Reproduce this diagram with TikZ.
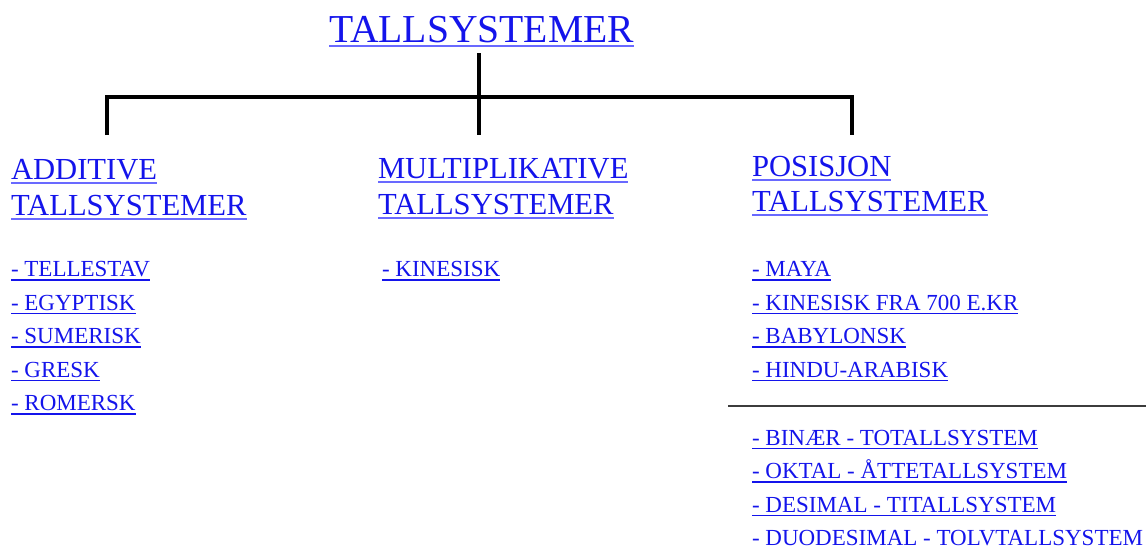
\documentclass[tikz,border=0pt]{standalone}
\usepackage{fontspec}
\setmainfont{Liberation Serif}
\definecolor{lnkblue}{RGB}{20,20,235}
\definecolor{ulblue}{RGB}{105,105,255}
\definecolor{rulegray}{RGB}{60,60,60}
\tikzset{
  lnktext/.style={anchor=base west, inner sep=0pt, outer sep=0pt, text=lnkblue},
  headul/.style={draw=ulblue, line width=2.4pt},
  itemul/.style={draw=lnkblue, line width=1.6pt},
  tree/.style={draw=black, line width=4pt},
}
\newcommand\lnkitem[5]{%
  \node[lnktext, font=\fontsize{#4}{#4}\selectfont] (#1) at (#2,#3) {#5};
  \draw[itemul] ([yshift=-3.5pt]#1.base west) -- ([yshift=-3.5pt]#1.base east);
}
\newcommand\lnkhead[5]{%
  \node[lnktext, font=\fontsize{#4}{#4}\selectfont] (#1) at (#2,#3) {#5};
  \draw[headul] ([yshift=-4pt]#1.base west) -- ([yshift=-4pt]#1.base east);
}
\begin{document}
\begin{tikzpicture}[x=1pt,y=-1pt]
\useasboundingbox (0,0) rectangle (1146,549);
% title
\lnkhead{title}{329}{42}{39.6}{TALLSYSTEMER}
% tree connectors
\coordinate (top) at (479,53);
\coordinate (mid) at (479,135);
\coordinate (lft) at (107,135);
\coordinate (rgt) at (852,135);
\draw[tree] (top) -- (mid);
\draw[tree] (lft) -- (107,97) -- (852,97) -- (rgt);
% headings
\lnkhead{a1}{11}{179}{30.6}{ADDITIVE}
\lnkhead{a2}{11}{215}{30.6}{TALLSYSTEMER}
\lnkhead{m1}{378}{178}{30.6}{MULTIPLIKATIVE}
\lnkhead{m2}{378}{214}{30.6}{TALLSYSTEMER}
\lnkhead{p1}{752}{176}{30.6}{POSISJON}
\lnkhead{p2}{752}{211}{30.6}{TALLSYSTEMER}
% left items
\lnkitem{l1}{11}{276.5}{23}{- TELLESTAV}
\lnkitem{l2}{11}{310}{23}{- EGYPTISK}
\lnkitem{l3}{11}{343.5}{23}{- SUMERISK}
\lnkitem{l4}{11}{377}{23}{- GRESK}
\lnkitem{l5}{11}{410.5}{23}{- ROMERSK}
% middle item
\lnkitem{k1}{382}{276.5}{23}{- KINESISK}
% right items
\lnkitem{r1}{752}{276.5}{23}{- MAYA}
\lnkitem{r2}{752}{310}{23}{- KINESISK FRA 700 E.KR}
\lnkitem{r3}{752}{343.5}{23}{- BABYLONSK}
\lnkitem{r4}{752}{377}{23}{- HINDU-ARABISK}
% rule
\coordinate (hr1) at (728,406);
\coordinate (hr2) at (1146,406);
\draw[draw=rulegray, line width=2pt] (hr1) -- (hr2);
\lnkitem{b1}{752}{445}{23}{- BINÆR - TOTALLSYSTEM}
\lnkitem{b2}{752}{478.5}{23}{- OKTAL - ÅTTETALLSYSTEM}
\lnkitem{b3}{752}{512}{23}{- DESIMAL - TITALLSYSTEM}
\node[lnktext, font=\fontsize{23}{23}\selectfont] (b4) at (752,545) {- DUODESIMAL - TOLVTALLSYSTEM};
\end{tikzpicture}
\end{document}
